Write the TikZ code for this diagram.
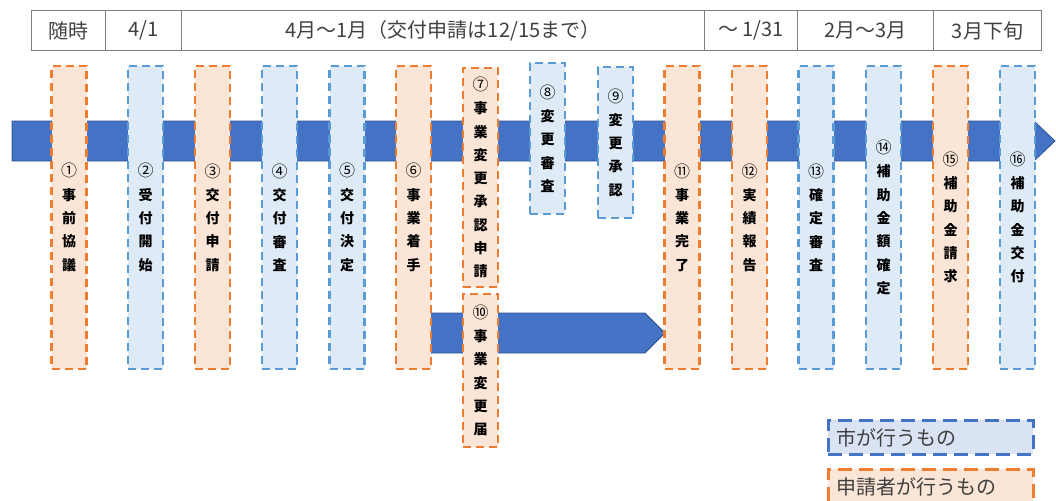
\documentclass[tikz,border=0pt]{standalone}
\usepackage{fontspec}
\setmainfont{Noto Sans CJK JP}
\usepackage[RGB]{xcolor}
\usepackage{tikz}
\definecolor{C}{RGB}{222,235,247}
\definecolor{CB}{RGB}{91,155,213}
\definecolor{A}{RGB}{251,229,214}
\definecolor{AB}{RGB}{237,125,49}
\definecolor{LC}{RGB}{218,227,243}
\definecolor{LCB}{RGB}{68,114,196}
\definecolor{ARR}{RGB}{68,114,196}
\definecolor{ARRB}{RGB}{47,82,143}
\definecolor{T}{RGB}{64,64,64}
\definecolor{G}{RGB}{127,127,127}
\tikzset{
  stage/.style={line width=2.75pt, dash pattern=on 8pt off 5pt, minimum width=35pt, inner sep=0pt,
    align=center, text=black, font=\fontsize{14}{23.3}\selectfont\bfseries},
  city/.style={stage, draw=CB, fill=C},
  applicant/.style={stage, draw=AB, fill=A},
  cell/.style={draw=G, line width=1pt, anchor=north west, minimum height=40pt, inner sep=0pt,
    text=T, font=\fontsize{20}{22}\selectfont},
  legendbox/.style={anchor=north west, line width=2.75pt, dash pattern=on 14pt off 7pt,
    minimum height=34pt, text width=189pt, inner xsep=8pt, inner ysep=0pt, align=left,
    text=T, font=\fontsize{20}{22}\selectfont}
}
\newcommand{\stagebox}[6]{\node[#2, minimum height={(#5-#4)*1pt}] (#1) at (#3,{(#4+#5)/2}) {#6};}
\newcommand{\headcell}[4]{\node[cell, minimum width={(#3-#2)*1pt}] (#1) at (#2,10) {#4};}
\newcommand{\drawblock}{\draw[draw=ARRB, fill=ARR, line width=0.75pt]}
\newcommand{\num}[1]{{\fontsize{16}{23.3}\selectfont\mdseries #1}}
\begin{document}
\begin{tikzpicture}[x=1pt, y=-1pt]
\useasboundingbox (0,0) rectangle (1056,500);
% schedule header
\headcell{hd1}{31}{105}{随時}
\headcell{hd2}{105}{181}{4/1}
\headcell{hd3}{181}{704}{4月～1月（交付申請は12/15まで）}
\headcell{hd4}{704}{797}{～ 1/31}
\headcell{hd5}{797}{933}{2月～3月}
\headcell{hd6}{933}{1041}{3月下旬}
% time lines
\drawblock (12,121)--(1034,121)--(1055,141)--(1034,161)--(12,161)--cycle;
\drawblock (414,313)--(645,313)--(665,333)--(645,353)--(414,353)--cycle;
% stages
\stagebox{s1}{applicant}{69}{66}{369}{\num{①}\\事\\前\\協\\議}
\stagebox{s2}{city}{145.5}{66}{369}{\num{②}\\受\\付\\開\\始}
\stagebox{s3}{applicant}{212.5}{66}{369}{\num{③}\\交\\付\\申\\請}
\stagebox{s4}{city}{279.5}{66}{369}{\num{④}\\交\\付\\審\\査}
\stagebox{s5}{city}{347}{66}{369}{\num{⑤}\\交\\付\\決\\定}
\stagebox{s6}{applicant}{413.5}{66}{369}{\num{⑥}\\事\\業\\着\\手}
\stagebox{s7}{applicant}{480.5}{68}{287}{\num{⑦}\\事\\業\\変\\更\\承\\認\\申\\請}
\stagebox{s8}{city}{547.5}{63}{214}{\num{⑧}\\変\\更\\審\\査}
\stagebox{s9}{city}{615.5}{67}{218}{\num{⑨}\\変\\更\\承\\認}
\stagebox{s10}{applicant}{480.5}{294}{447}{\num{⑩}\\事\\業\\変\\更\\届}
\stagebox{s11}{applicant}{682}{66}{369}{\num{⑪}\\事\\業\\完\\了}
\stagebox{s12}{applicant}{749.5}{66}{369}{\num{⑫}\\実\\績\\報\\告}
\stagebox{s13}{city}{816}{66}{369}{\num{⑬}\\確\\定\\審\\査}
\stagebox{s14}{city}{883.5}{66}{369}{\num{⑭}\\補\\助\\金\\額\\確\\定}
\stagebox{s15}{applicant}{950.5}{66}{369}{\num{⑮}\\補\\助\\金\\請\\求}
\stagebox{s16}{city}{1017.5}{66}{369}{\num{⑯}\\補\\助\\金\\交\\付}
% legend
\node[legendbox, draw=LCB, fill=LC] (lgCity) at (827,419) {市が行うもの};
\node[legendbox, draw=AB, fill=A] (lgApplicant) at (827,468) {申請者が行うもの};
\end{tikzpicture}
\end{document}
